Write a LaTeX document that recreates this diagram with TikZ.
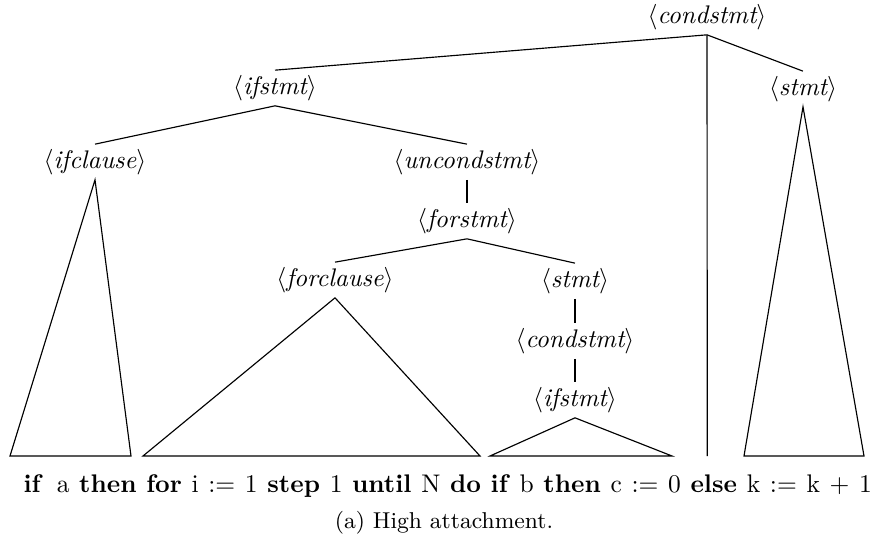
\documentclass[tikz,border=0pt]{standalone}
\begin{document}
\begin{tikzpicture}[x=0.3925pt,y=-0.3925pt,
  nt/.style={inner sep=0pt, outer sep=2pt},
  edge/.style={line width=0.45pt}]
\useasboundingbox (0,0) rectangle (879,542);
% nonterminals
\node[nt] (cs1) at (707,17) {$\langle\textit{condstmt}\rangle$};
\node[nt] (if1) at (275,88) {$\langle\textit{ifstmt}\rangle$};
\node[nt] (st1) at (803,89) {$\langle\textit{stmt}\rangle$};
\node[nt] (ifc) at (95,162) {$\langle\textit{ifclause}\rangle$};
\node[nt] (unc) at (467,162) {$\langle\textit{uncondstmt}\rangle$};
\node[nt] (fst) at (467,221) {$\langle\textit{forstmt}\rangle$};
\node[nt] (fcl) at (335,280) {$\langle\textit{forclause}\rangle$};
\node[nt] (st2) at (575,281) {$\langle\textit{stmt}\rangle$};
\node[nt] (cs2) at (575,341) {$\langle\textit{condstmt}\rangle$};
\node[nt] (if2) at (575,400) {$\langle\textit{ifstmt}\rangle$};
% base points
\coordinate (ifcL) at (10,456);  \coordinate (ifcR) at (131,456);
\coordinate (fclL) at (143,456); \coordinate (fclR) at (480,456);
\coordinate (if2L) at (490,456); \coordinate (if2R) at (672,456);
\coordinate (st1L) at (744,456); \coordinate (st1R) at (864,456);
\coordinate (elseB) at (707.3,456);
% edges
\draw[edge] (if1.north) -- (cs1.south) -- (st1.north);
\draw[edge] (cs1.south) -- (elseB);
\draw[edge] (ifc.north) -- (if1.south) -- (unc.north);
\draw[edge] (unc.south) -- (fst.north);
\draw[edge] (fcl.north) -- (fst.south) -- (st2.north);
\draw[edge] (st2.south) -- (cs2.north);
\draw[edge] (cs2.south) -- (if2.north);
% triangles
\draw[edge] (ifc.south) -- (ifcL) -- (ifcR) -- cycle;
\draw[edge] (fcl.south) -- (fclL) -- (fclR) -- cycle;
\draw[edge] (if2.south) -- (if2L) -- (if2R) -- cycle;
\draw[edge] (st1.south) -- (st1L) -- (st1R) -- cycle;
% terminal string
\node[anchor=base west, inner sep=0pt] (str) at (23,492)
  {\makebox[333pt][s]{\textbf{if}\hspace{5.5pt}a \textbf{then} \textbf{for} i $:=$ 1 \textbf{step} 1 \textbf{until} N \textbf{do} \textbf{if} b \textbf{then} c $:=$ 0 \textbf{else} k $:=$ k $+$ 1}};
\node[anchor=base, inner sep=0pt] (cap) at (444,528) {\small (a) High attachment.};
\end{tikzpicture}
\end{document}
